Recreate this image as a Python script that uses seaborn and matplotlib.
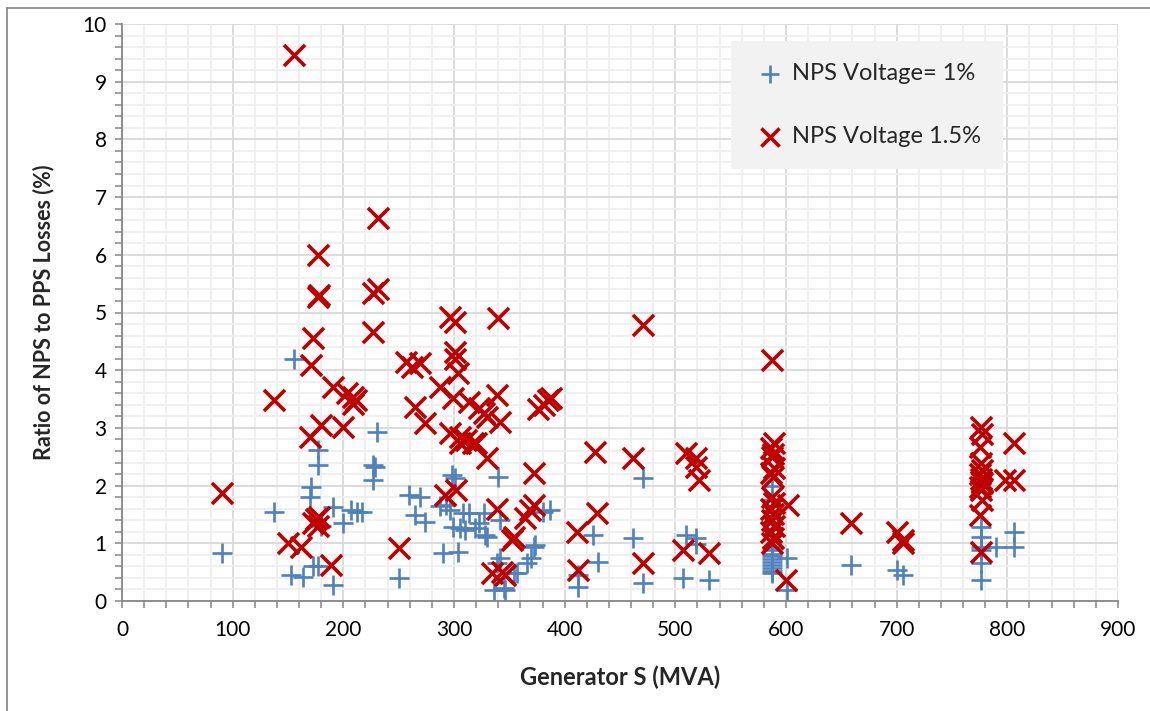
import matplotlib
matplotlib.use("Agg")
import matplotlib.pyplot as plt
import seaborn as sns
import pandas as pd
from matplotlib.lines import Line2D
from matplotlib.ticker import MultipleLocator

# ---- data ----
blue_x = [90, 137, 153, 155, 164, 170, 171, 173, 177, 177, 177, 180, 191, 191, 200,
          207, 212, 217, 227, 227, 229, 230, 250, 259, 265, 269, 274, 287, 290, 293,
          298, 301, 296, 299, 305, 308, 310, 314, 304, 319, 323, 327, 328, 330, 336,
          340, 342, 342, 339, 345, 346, 354, 357, 366, 370, 372, 373, 380, 387, 412,
          412, 426, 430, 462, 471, 471, 507, 510, 519, 519, 530,
          587, 587, 587, 587, 587, 587, 587, 587, 587, 587, 587, 587,
          601, 601, 659, 700, 706,
          776, 776, 776, 776, 776, 776, 790, 806, 806]
blue_y = [0.83, 1.55, 0.45, 4.2, 0.42, 1.81, 1.98, 0.6, 0.6, 2.62, 2.36, 1.3, 1.63, 0.28, 1.35,
          1.58, 1.55, 1.55, 2.1, 2.36, 2.33, 2.93, 0.39, 1.84, 1.49, 1.81, 1.37, 1.64, 0.83, 1.66,
          2.18, 2.13, 1.58, 1.29, 1.26, 1.52, 1.23, 1.52, 0.85, 1.26, 1.35, 1.52, 1.14, 1.11, 0.19,
          2.15, 1.4, 0.74, 0.65, 0.22, 0.19, 0.48, 0.48, 0.65, 0.75, 0.94, 0.97, 1.55, 1.58, 0.45,
          0.25, 1.14, 0.68, 1.09, 2.13, 0.31, 0.39, 1.14, 1.09, 0.98, 0.36,
          2.0, 1.75, 0.93, 0.88, 0.82, 0.78, 0.72, 0.68, 0.62, 0.58, 0.52, 0.48,
          0.74, 0.19, 0.62, 0.54, 0.45,
          1.29, 1.11, 0.94, 0.88, 0.65, 0.36, 0.94, 1.2, 0.94]

red_x = [90, 137, 150, 155, 162, 170, 171, 173, 173, 175, 177, 178, 177, 177, 178,
         180, 189, 191, 200, 203, 209, 209, 211, 227, 227, 231, 231, 250, 257, 262,
         269, 265, 274, 287, 292, 296, 296, 299, 301, 301, 301, 304, 302, 305, 305,
         311, 314, 317, 320, 323, 327, 330, 330, 334, 339, 339, 340, 342, 343, 346,
         352, 354, 364, 369, 372, 372, 376, 381, 385, 388, 411, 412, 427, 429, 462,
         471, 471, 507, 510, 519, 519, 521, 530,
         587, 589, 586, 588, 587, 589, 586, 588, 587, 589, 586, 588, 587, 589, 586, 588, 587,
         602, 600, 659, 700, 706, 706,
         776, 777, 775, 776, 777, 775, 776, 777, 775, 776, 777, 775, 776,
         798, 806, 806]
red_y = [1.87, 3.48, 1.0, 9.46, 0.94, 2.85, 4.09, 4.55, 1.35, 1.42, 1.3, 1.45, 6.0, 5.27, 5.3,
         3.05, 0.62, 3.71, 3.02, 3.6, 3.54, 3.42, 3.48, 4.67, 5.33, 5.4, 6.63, 0.91, 4.15, 4.05,
         4.12, 3.37, 3.08, 3.71, 1.84, 4.93, 2.91, 3.52, 4.84, 4.32, 4.2, 3.95, 1.92, 2.85, 2.73,
         2.79, 3.45, 2.73, 2.73, 3.34, 3.25, 3.19, 2.47, 0.48, 3.57, 1.6, 4.9, 3.11, 0.51, 0.45,
         1.06, 1.11, 1.43, 1.58, 1.66, 2.21, 3.33, 3.4, 3.48, 3.51, 1.2, 0.54, 2.59, 1.52, 2.47,
         4.78, 0.65, 0.88, 2.56, 2.47, 2.32, 2.1, 0.83,
         4.18, 2.74, 2.65, 2.55, 2.5, 2.3, 2.21, 2.15, 1.8, 1.7, 1.6, 1.5, 1.4, 1.3, 1.2, 1.1, 1.0,
         1.66, 0.36, 1.35, 1.2, 1.0, 1.06,
         3.02, 2.9, 2.67, 2.39, 2.27, 2.2, 2.12, 2.05, 1.97, 1.92, 1.75, 1.49, 0.85,
         2.1, 2.73, 2.1]

series_labels = ["NPS Voltage= 1%", "NPS Voltage 1.5%"]
x_label = "Generator S (MVA)"
y_label = "Ratio of NPS to PPS Losses (%)"

BLUE = "#4F81BD"
RED = "#C00000"

sns.set_theme(style="white")
plt.rcParams["font.family"] = ["Lato", "DejaVu Sans"]

fig = plt.figure(figsize=(11.5, 7.11), dpi=100)
ax = fig.add_axes([122/1150, 1 - 601/711, (1118-122)/1150, (601-24)/711])

df_b = pd.DataFrame({"x": blue_x, "y": blue_y})
df_r = pd.DataFrame({"x": red_x, "y": red_y})

sns.scatterplot(data=df_b, x="x", y="y", ax=ax, marker="+", color=BLUE,
                s=210, linewidth=1.9, zorder=3, label=series_labels[0])
sns.scatterplot(data=df_r, x="x", y="y", ax=ax, marker="x", color=RED,
                s=230, linewidth=2.6, zorder=4, label=series_labels[1])

ax.set_xlim(0, 900)
ax.set_ylim(0, 10)
ax.xaxis.set_major_locator(MultipleLocator(100))
ax.xaxis.set_minor_locator(MultipleLocator(20))
ax.yaxis.set_major_locator(MultipleLocator(1))
ax.yaxis.set_minor_locator(MultipleLocator(0.2))

ax.grid(which="major", color="#d9d9d9", linewidth=1.3, zorder=0)
ax.grid(which="minor", color="#efefef", linewidth=1.3, zorder=0)
ax.set_axisbelow(True)

for s in ["top", "right"]:
    ax.spines[s].set_visible(False)
for s in ["left", "bottom"]:
    ax.spines[s].set_color("#868686")
    ax.spines[s].set_linewidth(1.3)

ax.tick_params(which="both", direction="out", length=5, width=1.1, color="#868686",
               bottom=True, left=True)
ax.tick_params(which="major", labelsize=15, pad=6, labelcolor="black")
ax.tick_params(axis="x", which="major", pad=9)

ax.set_xlabel(x_label, fontsize=17, fontweight="bold", labelpad=18)
ax.set_ylabel(y_label, fontsize=15.5, fontweight="bold", labelpad=20)

leg = ax.legend(loc="upper left", bbox_to_anchor=(0.611, 0.9705), frameon=True,
                fontsize=17, facecolor="#f2f2f2", edgecolor="#f2f2f2",
                framealpha=1, fancybox=False, labelspacing=1.75, borderpad=0.95,
                handlelength=1.45, handletextpad=0.2, borderaxespad=0)
leg.get_frame().set_linewidth(0)
for h in leg.legend_handles:
    h.set_sizes([170])

# outer chart border
fig.add_artist(Line2D([7/1150, 1], [1 - 8/711, 1 - 8/711], transform=fig.transFigure,
                      color="#8c8c8c", linewidth=1.3))
fig.add_artist(Line2D([7/1150, 7/1150], [0, 1 - 8/711], transform=fig.transFigure,
                      color="#8c8c8c", linewidth=1.3))

fig.savefig("out.png", dpi=100)
